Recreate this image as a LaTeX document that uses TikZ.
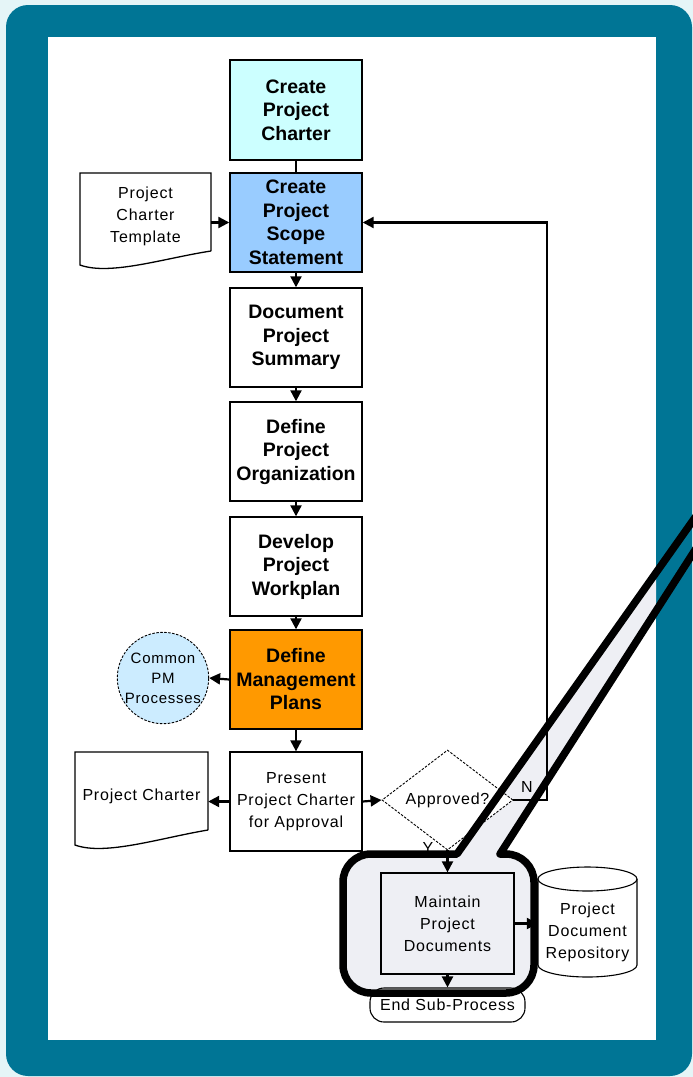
\documentclass[tikz,border=0pt]{standalone}
\usepackage{fontspec}
\setmainfont{Liberation Sans}
\newfontfamily\spaced[LetterSpace=5]{Liberation Sans}
\usetikzlibrary{shapes.geometric,arrows.meta}

\definecolor{frame}{RGB}{0,117,149}
\definecolor{outside}{RGB}{229,245,247}
\definecolor{charterfill}{RGB}{204,255,255}
\definecolor{scopefill}{RGB}{153,204,255}
\definecolor{planfill}{RGB}{255,153,0}
\definecolor{pmfill}{RGB}{204,236,255}
\definecolor{calloutfill}{RGB}{238,239,244}

\tikzset{
  stepbox/.style={draw=black, line width=1.4pt, minimum width=132pt, minimum height=99pt,
    inner sep=0pt, align=center, font=\fontsize{19.5}{23.5}\selectfont\bfseries},
  plainbox/.style={draw=black, line width=1.3pt, minimum width=132pt, minimum height=99pt,
    inner sep=0pt, align=center, font=\spaced\fontsize{16}{22}\selectfont},
  lbl/.style={align=center, inner sep=0pt, font=\spaced\fontsize{16}{22}\selectfont},
  docshape/.style={draw=black, line width=1.3pt, fill=white},
  arr/.style={line width=2.2pt, -{Triangle[length=11pt,width=11pt]}},
  link/.style={line width=2.2pt},
  dashline/.style={draw=black, line width=0.9pt, dash pattern=on 2.5pt off 1.5pt},
}

\begin{document}
\begin{tikzpicture}[x=1pt,y=-1pt]
\useasboundingbox (0,0) rectangle (693,1077);

% frame
\fill[outside] (0,0) rectangle (693,1077);
\fill[frame, rounded corners=22pt] (6,5) rectangle (692,1076);
\fill[white] (48,37) rectangle (656,1040);

% callout background, kept inside the white panel
\begin{scope}
  \clip (48,37) rectangle (656,1040);
  \fill[calloutfill] (457,854) -- (740,454) -- (740,480) -- (500,854) -- (506,854)
    arc[start angle=270,end angle=360,radius=28] -- (534,965)
    arc[start angle=0,end angle=90,radius=28] -- (371,993)
    arc[start angle=90,end angle=180,radius=28] -- (343,882)
    arc[start angle=180,end angle=270,radius=28] -- cycle;
\end{scope}

% main column
\node[stepbox, fill=charterfill, minimum height=100pt] (charter) at (296,110) {Create\\Project\\Charter};
\node[stepbox, fill=scopefill] (scope) at (296,222.5) {Create\\Project\\Scope\\Statement};
\node[stepbox, fill=white] (summary) at (296,337.5) {Document\\Project\\Summary};
\node[stepbox, fill=white] (org) at (296,451.5) {Define\\Project\\Organization};
\node[stepbox, fill=white] (workplan) at (296,566.5) {Develop\\Project\\Workplan};
\node[stepbox, fill=planfill] (mgmt) at (296,679.5) {Define\\Management\\Plans};
\node[plainbox, fill=white] (present) at (296,801.5) {Present\\Project Charter\\for Approval};

% documents
\draw[docshape] (211,251) -- (211,173) -- (80,173) -- (80,265)
  .. controls (110,276) and (165,258) .. (211,251);
\node[lbl, minimum width=131pt, minimum height=90pt] (tmpl) at (145.5,216) {Project\\Charter\\Template};

\draw[docshape] (208,830) -- (208,752) -- (75,752) -- (75,845)
  .. controls (105,856) and (160,838) .. (208,830);
\node[lbl, minimum width=133pt, minimum height=86pt] (charterdoc) at (141.5,796) {Project Charter};

% common processes
\node[circle, dashline, fill=pmfill, minimum size=88pt, inner sep=0pt, align=center,
  font=\spaced\fontsize{15}{20}\selectfont] (pm) at (163,678) {Common\\PM\\Processes};

% decision
\node[diamond, dashline, fill=white, minimum width=131pt, minimum height=100pt, inner sep=0pt,
  font=\spaced\fontsize{16}{20}\selectfont] (appr) at (447.5,800) {Approved?};
\node[lbl] (nlbl) at (527,787) {N};
\node[lbl] (ylbl) at (428,848) {Y};
\coordinate (loop) at (547,800);

% maintenance step and outputs
\node[plainbox, fill=calloutfill, minimum width=133pt, minimum height=101pt] (maint) at (447.5,923.5) {Maintain\\Project\\Documents};

\draw[docshape, line width=1.1pt] (538,879) -- (538,965)
  arc[start angle=180,end angle=0,x radius=49.5,y radius=12] -- (637,879);
\draw[docshape, line width=1.1pt] (587.5,879) ellipse [x radius=49.5, y radius=12];
\node[lbl, minimum width=99pt, minimum height=90pt] (repo) at (587.5,932) {Project\\Document\\Repository};

\node[lbl, draw=black, line width=1.1pt, fill=white, rounded corners=14pt, minimum width=155pt,
  minimum height=34pt] (endp) at (447.5,1005) {End Sub-Process};

% connectors
\draw[link] (charter) -- (scope);
\draw[arr] (scope) -- (summary);
\draw[arr] (summary) -- (org);
\draw[arr] (org) -- (workplan);
\draw[arr] (workplan) -- (mgmt);
\draw[arr] (mgmt) -- (present);
\draw[arr] (tmpl.east |- scope.west) -- (scope.west);
\draw[arr] (mgmt.west) -- (pm.east);
\draw[arr] (present.west) -- (charterdoc.east |- present.west);
\draw[arr] (present.east) -- (appr.west);
\draw[arr] (appr.east) -- (loop) |- (scope.east);
\draw[arr] (appr.south) -- (maint.north);
\draw[arr] (maint.south) -- (endp.north);

% callout outline
\draw[line width=7.5pt, line join=round] (457,854) -- (740,454) -- (740,480) -- (500,854) -- (506,854)
    arc[start angle=270,end angle=360,radius=28] -- (534,965)
    arc[start angle=0,end angle=90,radius=28] -- (371,993)
    arc[start angle=90,end angle=180,radius=28] -- (343,882)
    arc[start angle=180,end angle=270,radius=28] -- cycle;

% output to the repository crosses the callout edge
\draw[arr] (maint.east) -- (maint.east -| repo.west);
\end{tikzpicture}
\end{document}
